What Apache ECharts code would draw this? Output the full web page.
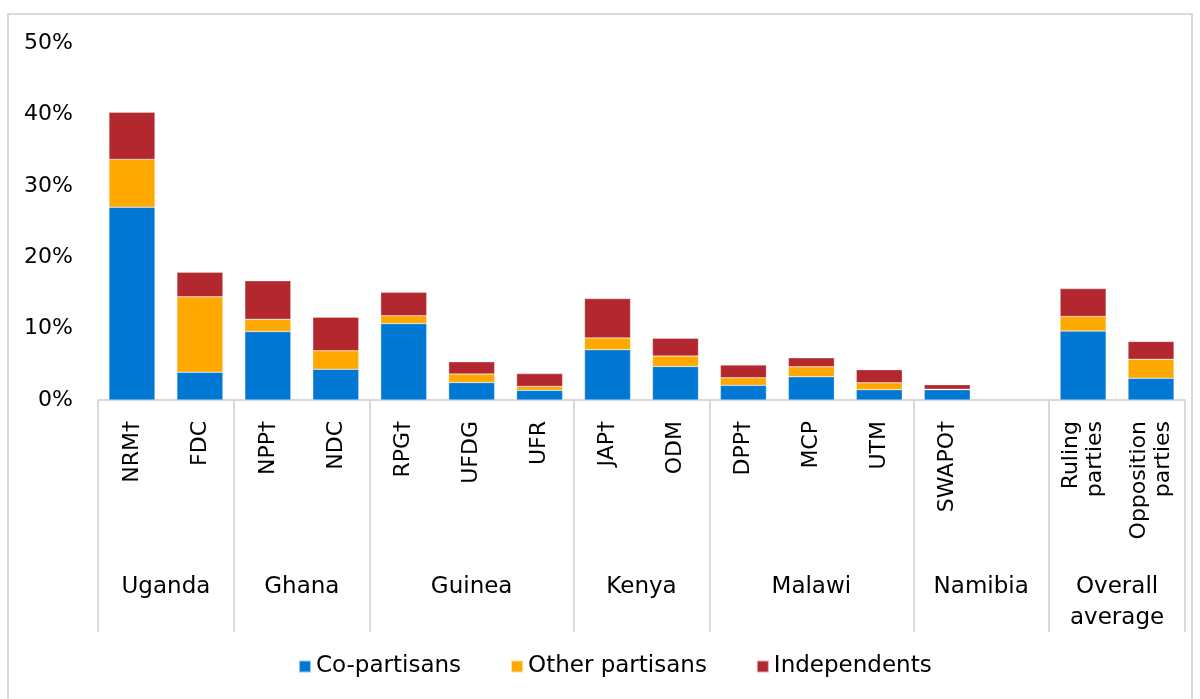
<!DOCTYPE html>
<html>
<head>
<meta charset="utf-8">
<script src="https://cdn.jsdelivr.net/npm/echarts@6/dist/echarts.min.js"></script>
<style>
  html, body { margin: 0; padding: 0; background: #fff; }
  #main { width: 1200px; height: 699px; }
</style>
</head>
<body>
<div id="main"></div>
<script>
// parties (the empty slot keeps the Namibia group two columns wide)
var parties = ['NRM†', 'FDC', 'NPP†', 'NDC', 'RPG†', 'UFDG', 'UFR', 'JAP†', 'ODM',
  'DPP†', 'MCP', 'UTM', 'SWAPO†', '', 'Ruling\nparties', 'Opposition\nparties'];
var coPartisans    = [27.0, 3.9, 9.6, 4.3, 10.7, 2.45, 1.35, 7.05, 4.7, 2.05, 3.25, 1.45, 1.45, null, 9.65, 3.05];
var otherPartisans = [6.7, 10.55, 1.7, 2.6, 1.1, 1.2, 0.55, 1.65, 1.45, 1.05, 1.4, 0.95, 0.05, null, 2.05, 2.65];
var independents   = [6.6, 3.45, 5.4, 4.7, 3.3, 1.7, 1.8, 5.5, 2.5, 1.8, 1.25, 1.85, 0.65, null, 3.9, 2.5];

// country groups: label position and borders in category units
var countries = ['Uganda', 'Ghana', 'Guinea', 'Kenya', 'Malawi', 'Namibia', 'Overall\naverage'];
var countryCenters = [1, 3, 5.5, 8, 10.5, 13, 15];
var countryBorders = [0, 2, 4, 7, 9, 12, 14, 16];
var yTicks = [0, 10, 20, 30, 40, 50];

var font = 'DejaVu Sans';
var gray = '#d9d9d9';

var myChart = echarts.init(document.getElementById('main'));

function barSeries(name, data, color) {
  return {
    name: name,
    type: 'bar',
    stack: 'all',
    data: data,
    barWidth: 46,
    itemStyle: { color: color, borderColor: 'rgba(255,255,255,0.6)', borderWidth: 0.5 }
  };
}

var option = {
  backgroundColor: '#fff',
  animation: false,
  graphic: [{
    type: 'rect',
    shape: { x: 8, y: 14, width: 1184, height: 700 },
    style: { fill: 'none', stroke: gray, lineWidth: 2 },
    silent: true
  }],
  grid: { left: 98, right: 15, top: 43, bottom: 299 },
  legend: {
    bottom: 16,
    left: 293,
    icon: 'rect',
    itemWidth: 12,
    itemHeight: 12,
    itemGap: 49,
    textStyle: { fontFamily: font, fontSize: 23, color: '#000' },
    data: ['Co-partisans', 'Other partisans', 'Independents']
  },
  xAxis: [{
    type: 'category',
    data: parties,
    axisLine: { lineStyle: { color: gray, width: 2 } },
    axisTick: { show: false },
    axisLabel: {
      rotate: 90,
      margin: 21,
      interval: 0,
      fontFamily: font,
      fontSize: 22,
      lineHeight: 24,
      color: '#000'
    }
  }, {
    type: 'value',
    position: 'bottom',
    min: 0,
    max: 16,
    axisLine: { show: false },
    splitLine: { show: false },
    axisTick: {
      show: true,
      customValues: countryBorders,
      length: 232,
      lineStyle: { color: gray, width: 2 }
    },
    axisLabel: {
      customValues: countryCenters,
      margin: 172,
      fontFamily: font,
      fontSize: 23,
      lineHeight: 31,
      color: '#000',
      align: 'center',
      formatter: function (v) {
        return countries[countryCenters.indexOf(v)];
      }
    }
  }],
  yAxis: {
    type: 'value',
    min: 0,
    max: 50,
    interval: 10,
    axisLine: { show: false },
    axisTick: { show: false },
    splitLine: { show: false },
    axisLabel: {
      margin: 25,
      fontFamily: font,
      fontSize: 22,
      color: '#000',
      formatter: function (v) { return yTicks.indexOf(v) >= 0 ? v + '%' : ''; }
    }
  },
  series: [
    barSeries('Co-partisans', coPartisans, '#0078d4'),
    barSeries('Other partisans', otherPartisans, '#ffa800'),
    barSeries('Independents', independents, '#b3282e')
  ]
};

myChart.setOption(option);
</script>
</body>
</html>
